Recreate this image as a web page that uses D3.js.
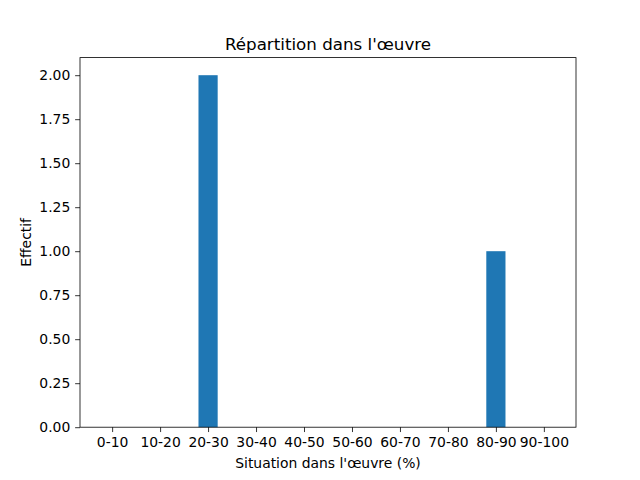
<!DOCTYPE html>
<html>
<head>
<meta charset="utf-8">
<script src="https://cdn.jsdelivr.net/npm/d3@7"></script>
<style>
	body { margin: 0; background: #fff; }
	text { font-family: "DejaVu Sans", sans-serif; fill: #000; }
</style>
</head>
<body>
<div id="chart"></div>
<script>
// data
var categories = ["0-10", "10-20", "20-30", "30-40", "40-50", "50-60", "60-70", "70-80", "80-90", "90-100"];
var counts = [0, 0, 2, 0, 0, 0, 0, 0, 1, 0];
var yTicks = [0, 0.25, 0.5, 0.75, 1.0, 1.25, 1.5, 1.75, 2.0];

var W = 640, H = 480;
var margin = {top: 57.6, right: 64, bottom: 52.8, left: 80};
var width = W - margin.left - margin.right,
	height = H - margin.top - margin.bottom;

var svg = d3.select("#chart").append("svg")
		.attr("width", W)
		.attr("height", H);

var g = svg.append("g")
		.attr("transform", `translate(${margin.left}, ${margin.top})`);

// positions 0..9, bar width 0.4, 5% margins like matplotlib
var barW = 0.4;
var lo = -barW / 2, hi = categories.length - 1 + barW / 2, pad = (hi - lo) * 0.05;
var xscale = d3.scaleLinear()
		.domain([lo - pad, hi + pad])
		.range([0, width]);
var yscale = d3.scaleLinear()
		.domain([0, 2.1])
		.range([height, 0]);

g.selectAll(".bar")
		.data(counts)
	.enter().append("rect")
		.attr("class", "bar")
		.attr("x", (d, i) => xscale(i - barW / 2))
		.attr("width", (d, i) => xscale(i + barW / 2) - xscale(i - barW / 2))
		.attr("y", d => yscale(d))
		.attr("height", d => yscale(0) - yscale(d))
		.attr("fill", "#1f77b4");

var xaxis = d3.axisBottom(xscale)
		.tickValues(d3.range(categories.length))
		.tickFormat(i => categories[i])
		.tickSizeInner(4.86)
		.tickSizeOuter(0)
		.tickPadding(4.86);
var yaxis = d3.axisLeft(yscale)
		.tickValues(yTicks)
		.tickFormat(d3.format(".2f"))
		.tickSizeInner(4.86)
		.tickSizeOuter(0)
		.tickPadding(4.86);

var gx = g.append("g")
		.attr("transform", `translate(0, ${height})`)
		.call(xaxis);
var gy = g.append("g")
		.call(yaxis);

[gx, gy].forEach(a => {
	a.select(".domain").remove();
	a.selectAll("line").attr("stroke", "#000").attr("stroke-width", 0.8);
	a.selectAll("text").attr("font-size", "13.9px").attr("font-family", "DejaVu Sans, sans-serif");
});

// frame
g.append("rect")
		.attr("width", width)
		.attr("height", height)
		.attr("fill", "none")
		.attr("stroke", "#000")
		.attr("stroke-width", 0.8);

svg.append("text")
		.attr("x", margin.left + width / 2)
		.attr("y", margin.top - 8)
		.attr("text-anchor", "middle")
		.attr("font-size", "16.7px")
		.text("Répartition dans l'œuvre");

svg.append("text")
		.attr("x", margin.left + width / 2)
		.attr("y", 468)
		.attr("text-anchor", "middle")
		.attr("font-size", "13.9px")
		.text("Situation dans l'œuvre (%)");

svg.append("text")
		.attr("transform", `translate(31, ${margin.top + height / 2}) rotate(-90)`)
		.attr("text-anchor", "middle")
		.attr("font-size", "13.9px")
		.text("Effectif");
</script>
</body>
</html>
